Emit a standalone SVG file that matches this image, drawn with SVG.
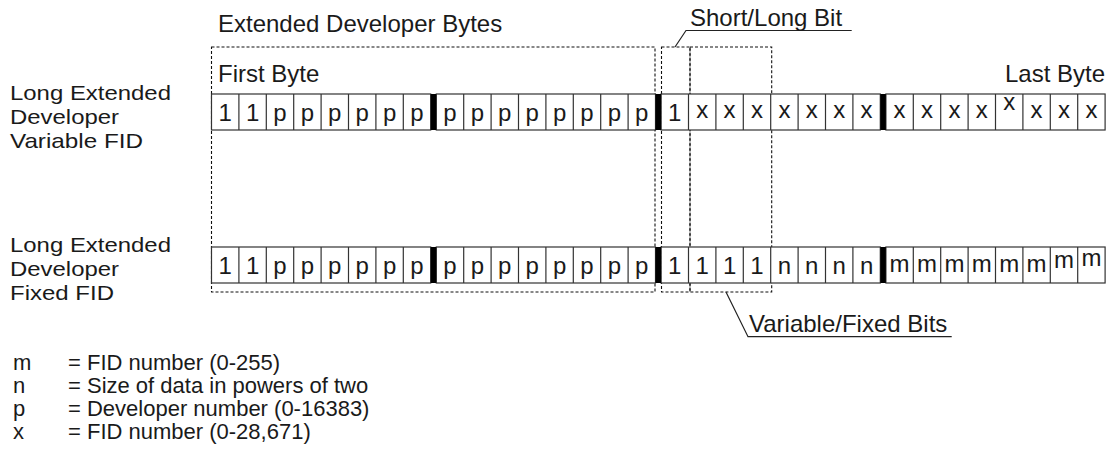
<svg xmlns="http://www.w3.org/2000/svg" width="1112" height="453" viewBox="0 0 1112 453">
<style>
  text { font-family: "Liberation Sans", Arial, sans-serif; fill: #1a1a1a; }
  .lbl { font-size: 24px; }
  .side { font-size: 21px; }
  .leg { font-size: 22px; }
  .c { font-size: 24px; text-anchor: middle; }
  .cell { fill: #fff; stroke: #333; stroke-width: 1.2; }
  .div { fill: none; stroke: #333; stroke-width: 1.2; }
  .bar { fill: #000; }
  .dash { fill: none; stroke: #111; stroke-width: 1.1; stroke-dasharray: 3 2; }
  .lead { fill: none; stroke: #222; stroke-width: 1.2; }
</style>
<rect width="1112" height="453" fill="#fff"/>

<g id="boxes">
  <rect id="box-extended" class="dash" x="211.5" y="47" width="443.5" height="245"/>
  <rect id="box-shortlong" class="dash" x="661.5" y="47" width="28.5" height="245"/>
  <rect id="box-varfixed" class="dash" x="690" y="47" width="81.7" height="245"/>
</g>

<g id="row1">
  <rect class="cell" x="211.5" y="94" width="219.2" height="36"/>
  <rect class="cell" x="436.3" y="94" width="219.2" height="36"/>
  <rect class="cell" x="661.1" y="94" width="219.2" height="36"/>
  <rect class="cell" x="885.9" y="94" width="219.2" height="36"/>
  <path class="div" d="M238.9 94V130M266.3 94V130M293.7 94V130M321.1 94V130M348.5 94V130M375.9 94V130M403.3 94V130M463.7 94V130M491.1 94V130M518.5 94V130M545.9 94V130M573.3 94V130M600.7 94V130M628.1 94V130M688.5 94V130M715.9 94V130M743.3 94V130M770.7 94V130M798.1 94V130M825.5 94V130M852.9 94V130M913.3 94V130M940.7 94V130M968.1 94V130M995.5 94V130M1022.9 94V130M1050.3 94V130M1077.7 94V130"/>
  <rect class="bar" x="430.7" y="94" width="5.6" height="36"/>
  <rect class="bar" x="655.5" y="94" width="5.6" height="36"/>
  <rect class="bar" x="880.3" y="94" width="5.6" height="36"/>
  <text class="c" y="121"><tspan x="225.2">1</tspan><tspan x="252.6">1</tspan><tspan x="280">p</tspan><tspan x="307.4">p</tspan><tspan x="334.8">p</tspan><tspan x="362.2">p</tspan><tspan x="389.6">p</tspan><tspan x="417">p</tspan></text>
  <text class="c" y="121"><tspan x="450">p</tspan><tspan x="477.4">p</tspan><tspan x="504.8">p</tspan><tspan x="532.2">p</tspan><tspan x="559.6">p</tspan><tspan x="587">p</tspan><tspan x="614.4">p</tspan><tspan x="641.8">p</tspan></text>
  <text class="c" x="674.8" y="121">1</text>
  <text class="c" y="118"><tspan x="702.2">x</tspan><tspan x="729.6">x</tspan><tspan x="757">x</tspan><tspan x="784.4">x</tspan><tspan x="811.8">x</tspan><tspan x="839.2">x</tspan><tspan x="866.6">x</tspan></text>
  <text class="c" y="118"><tspan x="899.6">x</tspan><tspan x="927">x</tspan><tspan x="954.4">x</tspan><tspan x="981.8">x</tspan><tspan x="1036.6">x</tspan><tspan x="1064">x</tspan><tspan x="1091.4">x</tspan></text>
  <text class="c" x="1009.2" y="110">x</text>
</g>

<g id="row2">
  <rect class="cell" x="211.5" y="247" width="219.2" height="36"/>
  <rect class="cell" x="436.3" y="247" width="219.2" height="36"/>
  <rect class="cell" x="661.1" y="247" width="219.2" height="36"/>
  <rect class="cell" x="885.9" y="247" width="219.2" height="36"/>
  <path class="div" d="M238.9 247V283M266.3 247V283M293.7 247V283M321.1 247V283M348.5 247V283M375.9 247V283M403.3 247V283M463.7 247V283M491.1 247V283M518.5 247V283M545.9 247V283M573.3 247V283M600.7 247V283M628.1 247V283M688.5 247V283M715.9 247V283M743.3 247V283M770.7 247V283M798.1 247V283M825.5 247V283M852.9 247V283M913.3 247V283M940.7 247V283M968.1 247V283M995.5 247V283M1022.9 247V283M1050.3 247V283M1077.7 247V283"/>
  <rect class="bar" x="430.7" y="247" width="5.6" height="36"/>
  <rect class="bar" x="655.5" y="247" width="5.6" height="36"/>
  <rect class="bar" x="880.3" y="247" width="5.6" height="36"/>
  <text class="c" y="274"><tspan x="225.2">1</tspan><tspan x="252.6">1</tspan><tspan x="280">p</tspan><tspan x="307.4">p</tspan><tspan x="334.8">p</tspan><tspan x="362.2">p</tspan><tspan x="389.6">p</tspan><tspan x="417">p</tspan></text>
  <text class="c" y="274"><tspan x="450">p</tspan><tspan x="477.4">p</tspan><tspan x="504.8">p</tspan><tspan x="532.2">p</tspan><tspan x="559.6">p</tspan><tspan x="587">p</tspan><tspan x="614.4">p</tspan><tspan x="641.8">p</tspan></text>
  <text class="c" y="274"><tspan x="674.8">1</tspan><tspan x="702.2">1</tspan><tspan x="729.6">1</tspan><tspan x="757">1</tspan><tspan x="784.4">n</tspan><tspan x="811.8">n</tspan><tspan x="839.2">n</tspan><tspan x="866.6">n</tspan></text>
  <text class="c" y="272"><tspan x="899.6">m</tspan><tspan x="927">m</tspan><tspan x="954.4">m</tspan><tspan x="981.8">m</tspan><tspan x="1009.2">m</tspan><tspan x="1036.6">m</tspan></text>
  <text class="c" x="1064" y="268">m</text>
  <text class="c" x="1091.4" y="266">m</text>
</g>

<g id="connectors">
  <polyline class="lead" points="675,47 686,30.5 851.7,30.5"/>
  <polyline class="lead" points="726,292 748,336.7 951.7,336.7"/>
</g>

<g id="labels">
  <text class="lbl" x="218" y="32">Extended Developer Bytes</text>
  <text class="lbl" x="690" y="26">Short/Long Bit</text>
  <text class="lbl" x="218" y="82">First Byte</text>
  <text class="lbl" x="1105" y="82" text-anchor="end">Last Byte</text>
  <text class="lbl" x="749" y="332">Variable/Fixed Bits</text>
  <text class="side" x="10" y="100" textLength="161" lengthAdjust="spacingAndGlyphs">Long Extended</text>
  <text class="side" x="10" y="124" textLength="109" lengthAdjust="spacingAndGlyphs">Developer</text>
  <text class="side" x="10" y="148" textLength="133" lengthAdjust="spacingAndGlyphs">Variable FID</text>
  <text class="side" x="10" y="252" textLength="161" lengthAdjust="spacingAndGlyphs">Long Extended</text>
  <text class="side" x="10" y="276" textLength="109" lengthAdjust="spacingAndGlyphs">Developer</text>
  <text class="side" x="10" y="300" textLength="104" lengthAdjust="spacingAndGlyphs">Fixed FID</text>
</g>

<g id="legend">
  <text class="leg" x="13" y="369.5">m</text>
  <text class="leg" x="68" y="369.5">= FID number (0-255)</text>
  <text class="leg" x="13" y="392.8">n</text>
  <text class="leg" x="68" y="392.8">= Size of data in powers of two</text>
  <text class="leg" x="13" y="416">p</text>
  <text class="leg" x="68" y="416">= Developer number (0-16383)</text>
  <text class="leg" x="13" y="439.3">x</text>
  <text class="leg" x="68" y="439.3">= FID number (0-28,671)</text>
</g>
</svg>
